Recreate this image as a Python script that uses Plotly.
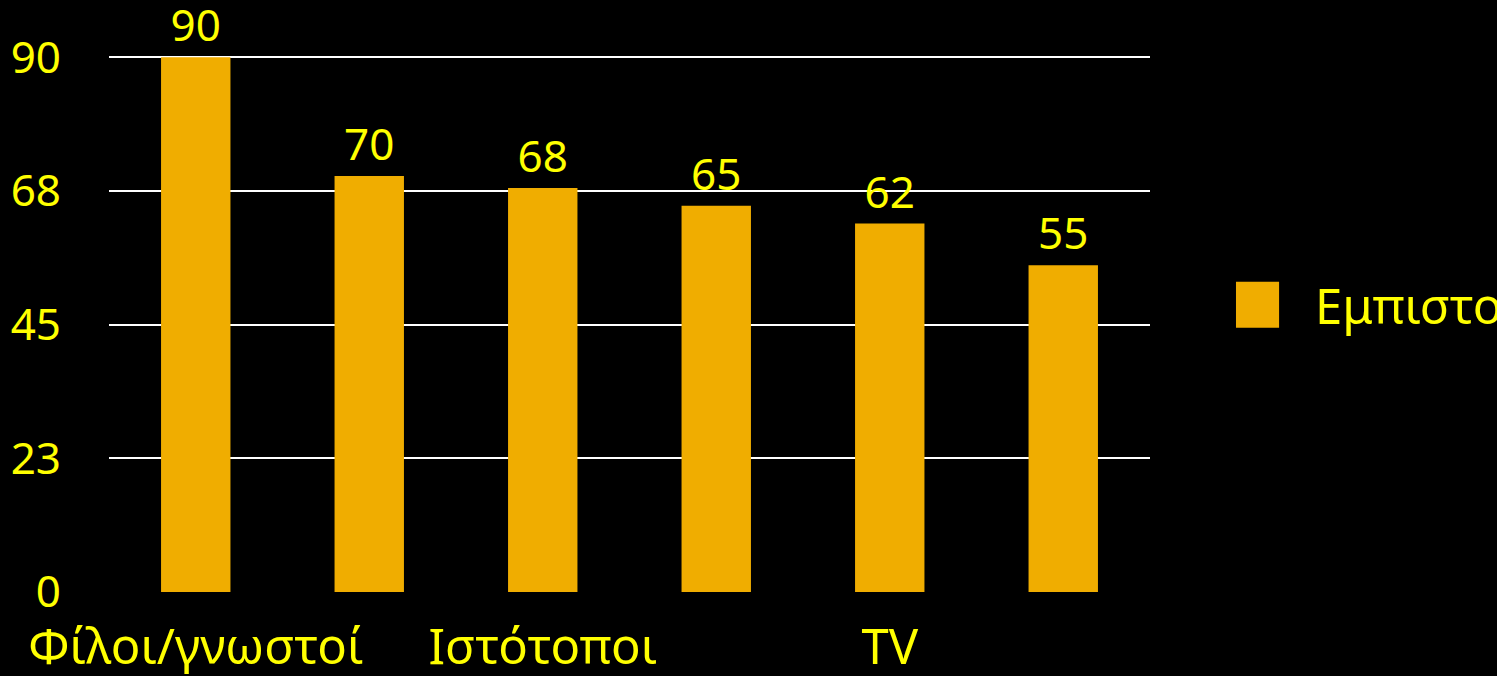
import plotly.graph_objects as go

categories = ["Φίλοι/γνωστοί", "Εφημερίδες", "Ιστότοποι", "Περιοδικά", "TV", "Ραδιόφωνο"]
tick_labels = ["Φίλοι/γνωστοί", "", "Ιστότοποι", "", "TV", ""]
values = [90, 70, 68, 65, 62, 55]
series_name = "Εμπιστοσύνη"
y_tickvals = [0, 22.5, 45, 67.5, 90]
y_ticktext = ["0", "23", "45", "68", "90"]

YELLOW = "#FFFF00"
BAR = "#F0AD00"
FONT = "Noto Sans"
FS = 44

fig = go.Figure()
fig.add_trace(go.Bar(
    x=categories, y=values, name=series_name,
    marker=dict(color=BAR, line=dict(width=0)),
    text=[str(v) for v in values], textposition="outside",
    textfont=dict(color=YELLOW, size=FS, family=FONT),
    cliponaxis=False, showlegend=False,
))

fig.update_layout(
    width=1497, height=676,
    paper_bgcolor="black", plot_bgcolor="black",
    margin=dict(l=109, r=347, t=56, b=84, autoexpand=False),
    bargap=0.6,
    font=dict(family=FONT, size=FS, color=YELLOW),
    xaxis=dict(tickmode="array", tickvals=categories, ticktext=tick_labels,
               showgrid=False, showline=False, ticks="",
               ticklabelstandoff=22,
               tickfont=dict(size=49, color=YELLOW, family=FONT)),
    yaxis=dict(range=[0, 90.2], tickmode="array", tickvals=y_tickvals, ticktext=y_ticktext,
               showgrid=True, gridcolor="white", gridwidth=2,
               zeroline=True, zerolinecolor="black", showline=False, ticks="",
               ticklabelstandoff=47,
               tickfont=dict(size=FS, color=YELLOW, family=FONT)),
)

# legend drawn manually (large swatch)
fig.add_shape(type="rect", xref="paper", yref="paper",
              x0=1.0826, x1=1.124, y0=0.493, y1=0.579,
              fillcolor=BAR, line=dict(width=0))
fig.add_annotation(xref="paper", yref="paper", x=1.157, y=0.536,
                   xanchor="left", yanchor="middle", showarrow=False,
                   text=series_name, font=dict(size=49, color=YELLOW, family=FONT))

fig.write_html("out.html")
